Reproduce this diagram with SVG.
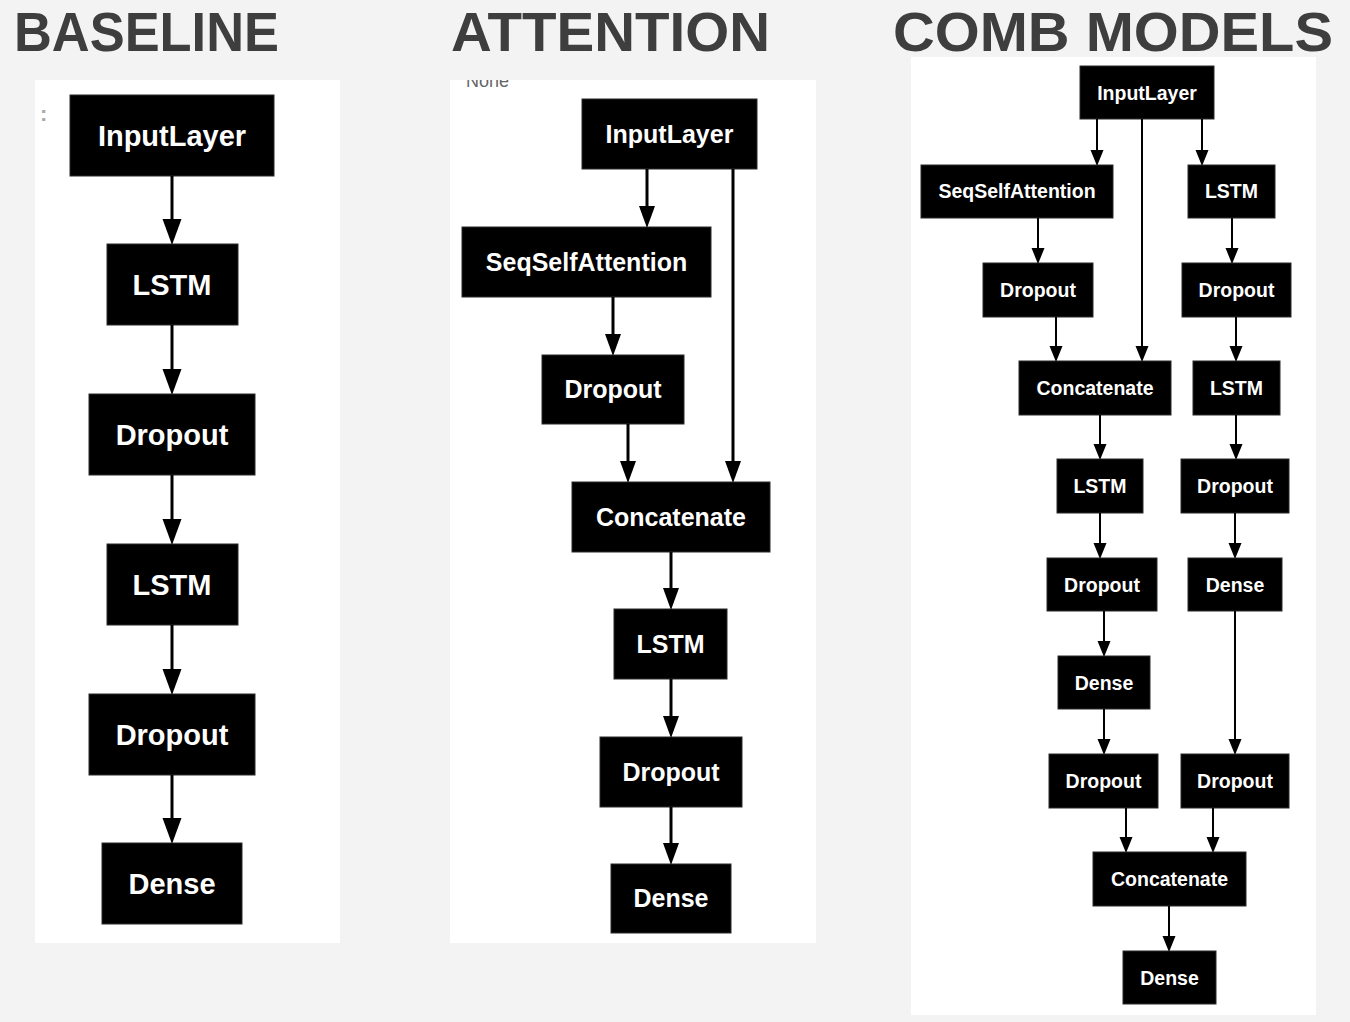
<svg xmlns="http://www.w3.org/2000/svg" width="1350" height="1022" viewBox="0 0 1350 1022">
<style>
.title{font-family:"Liberation Sans",Arial,sans-serif;font-weight:bold;font-size:56px;fill:#3e3e3e}
.n rect{fill:#000;stroke:#2a2a2a;stroke-width:1}
.n text{font-family:"Liberation Sans",Arial,sans-serif;font-weight:bold;fill:#fff;text-anchor:middle}
.b text{font-size:29px}
.a text{font-size:25px}
.c text{font-size:19.5px}
.cb line{stroke:#000;stroke-width:3}
.ca line{stroke:#000;stroke-width:3}
.cc line{stroke:#000;stroke-width:2}
.cb line{marker-end:url(#hb)}
.ca line{marker-end:url(#ha)}
.cc line{marker-end:url(#hc)}
.gray{font-family:"Liberation Sans",Arial,sans-serif;fill:#666}
</style>
<defs>
<marker id="hb" markerUnits="userSpaceOnUse" markerWidth="26" markerHeight="19" refX="0" refY="9.5" orient="auto" overflow="visible"><path d="M0,0 L26,9.5 L0,19 Z" fill="#000"/></marker>
<marker id="ha" markerUnits="userSpaceOnUse" markerWidth="22" markerHeight="16" refX="0" refY="8" orient="auto" overflow="visible"><path d="M0,0 L22,8 L0,16 Z" fill="#000"/></marker>
<marker id="hc" markerUnits="userSpaceOnUse" markerWidth="16" markerHeight="13" refX="0" refY="6.5" orient="auto" overflow="visible"><path d="M0,0 L16,6.5 L0,13 Z" fill="#000"/></marker>
<clipPath id="clipA"><rect x="450" y="80" width="366" height="863"/></clipPath>
</defs>
<rect width="1350" height="1022" fill="#f3f3f3"/>
<text class="title" x="14" y="51" textLength="265" lengthAdjust="spacingAndGlyphs">BASELINE</text>
<text class="title" x="451" y="51" textLength="319" lengthAdjust="spacingAndGlyphs">ATTENTION</text>
<text class="title" x="893" y="51" textLength="440" lengthAdjust="spacingAndGlyphs">COMB MODELS</text>

<rect x="35" y="80" width="305" height="863" fill="#fff"/>
<rect x="450" y="80" width="366" height="863" fill="#fff"/>
<rect x="911" y="57" width="405" height="958" fill="#fff"/>
<text class="gray" x="40" y="121" font-size="22" font-weight="bold" style="fill:#aaa">:</text>
<text class="gray" x="466" y="87" font-size="18" clip-path="url(#clipA)">None</text>

<!-- Baseline nodes -->
<g id="b1" class="n b"><rect x="70" y="95" width="204" height="81"/><text x="172" y="146">InputLayer</text></g>
<g id="b2" class="n b"><rect x="107" y="244" width="131" height="81"/><text x="172" y="295">LSTM</text></g>
<g id="b3" class="n b"><rect x="89" y="394" width="166" height="81"/><text x="172" y="445">Dropout</text></g>
<g id="b4" class="n b"><rect x="107" y="544" width="131" height="81"/><text x="172" y="595">LSTM</text></g>
<g id="b5" class="n b"><rect x="89" y="694" width="166" height="81"/><text x="172" y="745">Dropout</text></g>
<g id="b6" class="n b"><rect x="102" y="843" width="140" height="81"/><text x="172" y="894">Dense</text></g>

<!-- Attention nodes -->
<g id="a1" class="n a"><rect x="582" y="99" width="175" height="70"/><text x="669.5" y="143">InputLayer</text></g>
<g id="a2" class="n a"><rect x="462" y="227" width="249" height="70"/><text x="586.5" y="271">SeqSelfAttention</text></g>
<g id="a3" class="n a"><rect x="542" y="355" width="142" height="69"/><text x="613" y="398">Dropout</text></g>
<g id="a4" class="n a"><rect x="572" y="482" width="198" height="70"/><text x="671" y="526">Concatenate</text></g>
<g id="a5" class="n a"><rect x="614" y="609" width="113" height="70"/><text x="670.5" y="653">LSTM</text></g>
<g id="a6" class="n a"><rect x="600" y="737" width="142" height="70"/><text x="671" y="781">Dropout</text></g>
<g id="a7" class="n a"><rect x="611" y="864" width="120" height="69"/><text x="671" y="907">Dense</text></g>

<!-- Comb nodes -->
<g id="c1" class="n c"><rect x="1080" y="66" width="134" height="53"/><text x="1147" y="99.5">InputLayer</text></g>
<g id="c2" class="n c"><rect x="921" y="165" width="192" height="53"/><text x="1017" y="198">SeqSelfAttention</text></g>
<g id="c3" class="n c"><rect x="1188" y="165" width="87" height="53"/><text x="1231.5" y="198">LSTM</text></g>
<g id="c4" class="n c"><rect x="983" y="263" width="110" height="54"/><text x="1038" y="297">Dropout</text></g>
<g id="c5" class="n c"><rect x="1182" y="263" width="109" height="54"/><text x="1236.5" y="297">Dropout</text></g>
<g id="c6" class="n c"><rect x="1019" y="361" width="152" height="54"/><text x="1095" y="395">Concatenate</text></g>
<g id="c7" class="n c"><rect x="1193" y="361" width="87" height="54"/><text x="1236.5" y="395">LSTM</text></g>
<g id="c8" class="n c"><rect x="1057" y="459" width="86" height="54"/><text x="1100" y="493">LSTM</text></g>
<g id="c9" class="n c"><rect x="1181" y="459" width="108" height="54"/><text x="1235" y="493">Dropout</text></g>
<g id="c10" class="n c"><rect x="1047" y="558" width="110" height="53"/><text x="1102" y="591.5">Dropout</text></g>
<g id="c11" class="n c"><rect x="1188" y="558" width="94" height="53"/><text x="1235" y="591.5">Dense</text></g>
<g id="c12" class="n c"><rect x="1058" y="656" width="92" height="53"/><text x="1104" y="689.5">Dense</text></g>
<g id="c13" class="n c"><rect x="1049" y="754" width="109" height="54"/><text x="1103.5" y="788">Dropout</text></g>
<g id="c14" class="n c"><rect x="1181" y="754" width="108" height="54"/><text x="1235" y="788">Dropout</text></g>
<g id="c15" class="n c"><rect x="1093" y="852" width="153" height="54"/><text x="1169.5" y="886">Concatenate</text></g>
<g id="c16" class="n c"><rect x="1123" y="951" width="93" height="53"/><text x="1169.5" y="984.5">Dense</text></g>

<g id="connectors">
<g class="cb">
<line x1="172" y1="176" x2="172" y2="219"/>
<line x1="172" y1="325" x2="172" y2="369"/>
<line x1="172" y1="475" x2="172" y2="519"/>
<line x1="172" y1="625" x2="172" y2="669"/>
<line x1="172" y1="775" x2="172" y2="818"/>
</g>
<g class="ca">
<line x1="647" y1="169" x2="647" y2="206"/>
<line x1="733" y1="169" x2="733" y2="461"/>
<line x1="613" y1="297" x2="613" y2="334"/>
<line x1="628" y1="424" x2="628" y2="461"/>
<line x1="671" y1="552" x2="671" y2="588"/>
<line x1="671" y1="679" x2="671" y2="716"/>
<line x1="671" y1="807" x2="671" y2="843"/>
</g>
<g class="cc">
<line x1="1097" y1="119" x2="1097" y2="150"/>
<line x1="1142" y1="119" x2="1142" y2="346"/>
<line x1="1202" y1="119" x2="1202" y2="150"/>
<line x1="1038" y1="218" x2="1038" y2="248"/>
<line x1="1232" y1="218" x2="1232" y2="248"/>
<line x1="1056" y1="317" x2="1056" y2="346"/>
<line x1="1236" y1="317" x2="1236" y2="346"/>
<line x1="1100" y1="415" x2="1100" y2="444"/>
<line x1="1236" y1="415" x2="1236" y2="444"/>
<line x1="1100" y1="513" x2="1100" y2="543"/>
<line x1="1235" y1="513" x2="1235" y2="543"/>
<line x1="1104" y1="611" x2="1104" y2="641"/>
<line x1="1104" y1="709" x2="1104" y2="739"/>
<line x1="1235" y1="611" x2="1235" y2="739"/>
<line x1="1126" y1="808" x2="1126" y2="837"/>
<line x1="1213" y1="808" x2="1213" y2="837"/>
<line x1="1169" y1="906" x2="1169" y2="936"/>
</g>
</g>
</svg>
